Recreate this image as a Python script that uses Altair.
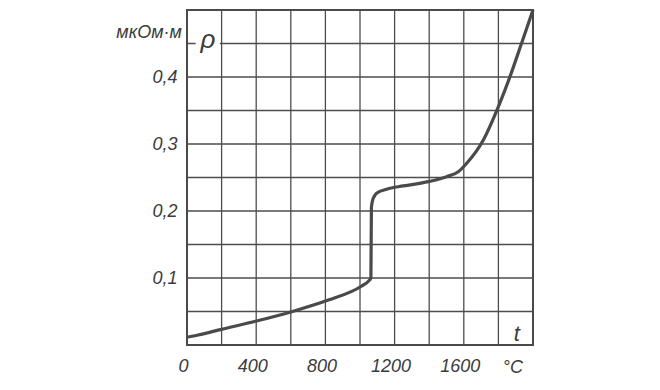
import altair as alt
import pandas as pd

# Resistivity curve (t in °C, rho in µΩ·m)
t_vals = [0, 65, 200, 402, 605, 817, 1010, 1050, 1063, 1066, 1072, 1085, 1096, 1154,
          1250, 1395, 1501, 1568, 1617, 1713, 1800, 1867, 1934, 2000]
rho_vals = [0.0115, 0.0149, 0.0234, 0.0358, 0.0497, 0.067, 0.0881, 0.0955, 0.100, 0.205,
            0.215, 0.223, 0.2265, 0.2325, 0.2374, 0.2438, 0.2513, 0.2587, 0.2713, 0.306,
            0.3558, 0.4006, 0.4504, 0.5]

x_grid = list(range(0, 2001, 200))
y_grid = [round(0.05 * i, 2) for i in range(11)]
x_labels = [0, 400, 800, 1200, 1600]
y_labels = [0.1, 0.2, 0.3, 0.4]

df = pd.DataFrame({"t": t_vals, "rho": rho_vals})

FONT = "Liberation Sans"
INK = "#3c3c3c"
GRID = "#4d4d4d"

xs = alt.Scale(domain=[0, 2000], nice=False, zero=False)
ys = alt.Scale(domain=[0, 0.5], nice=False, zero=False)

vgrid = alt.Chart(pd.DataFrame({"g": x_grid})).mark_rule(
    color=GRID, strokeWidth=1.3
).encode(x=alt.X("g:Q", scale=xs, axis=alt.Axis(
    values=x_labels, grid=False, ticks=False, domain=False, title=None, format="d",
    labelPadding=12, labelFlush=False, labelOffset=-4)))

hgrid = alt.Chart(pd.DataFrame({"g": y_grid})).mark_rule(
    color=GRID, strokeWidth=1.3
).encode(y=alt.Y("g:Q", scale=ys, axis=alt.Axis(
    values=y_labels, grid=False, ticks=False, domain=False, title=None,
    labelExpr="replace(format(datum.value, '.1f'), '.', ',')",
    labelPadding=10, labelFlush=False)))

# white gap in the grid line behind the rho symbol
gap = alt.Chart(pd.DataFrame({"x1": [50], "x2": [190], "y1": [0.444], "y2": [0.456]})).mark_rect(
    fill="white"
).encode(x=alt.X("x1:Q", scale=xs), x2="x2", y=alt.Y("y1:Q", scale=ys), y2="y2")

line = alt.Chart(df).mark_line(
    color="#4a4a4a", strokeWidth=3.2, interpolate="monotone"
).encode(
    x=alt.X("t:Q", scale=xs),
    y=alt.Y("rho:Q", scale=ys),
)

def label(text, x, y, size, align="center"):
    return alt.Chart(pd.DataFrame({"x": [x], "y": [y], "s": [text]})).mark_text(
        font=FONT, fontStyle="italic", fontSize=size, color=INK, align=align, baseline="middle"
    ).encode(x=alt.X("x:Q", scale=xs), y=alt.Y("y:Q", scale=ys), text="s:N")

unit = label("мкОм·м", -30, 0.466, 18, "right")
rho_sym = label("ρ", 121, 0.455, 26)
t_sym = label("t", 1907, 0.017, 22)
deg = label("°C", 1884, -0.034, 18)

chart = alt.layer(vgrid, hgrid, gap, line, unit, rho_sym, t_sym, deg).properties(
    width=346, height=335,
    padding={"left": 179, "top": 2, "right": 100, "bottom": 36},
    autosize=alt.AutoSizeParams(type="none"),
    background="white",
).configure_view(
    stroke="#444444", strokeWidth=2
).configure_axis(
    labelFont=FONT, labelFontStyle="italic", labelFontSize=18, labelColor=INK,
)

chart.save("out.html", embed_options={"renderer": "svg", "actions": False})
